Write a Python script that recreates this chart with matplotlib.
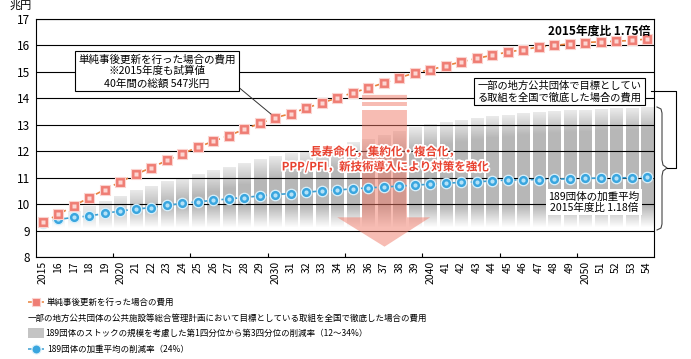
import numpy as np
import matplotlib
matplotlib.use('Agg')
import matplotlib.pyplot as plt
import matplotlib.patheffects as pe
from matplotlib.patches import Polygon, Rectangle
from matplotlib.lines import Line2D

plt.rcParams['font.family'] = ['Noto Sans CJK JP', 'DejaVu Sans']

# --- data (兆円) ---
years = list(range(2015, 2055))
year_labels = [str(y) if y in (2015, 2020, 2030, 2040, 2050) else str(y)[2:] for y in years]

simple_renewal = [9.31, 9.61, 9.94, 10.25, 10.55, 10.84, 11.13, 11.38, 11.65, 11.91,
                  12.15, 12.38, 12.59, 12.83, 13.05, 13.27, 13.42, 13.63, 13.83, 14.01,
                  14.21, 14.39, 14.58, 14.78, 14.96, 15.08, 15.23, 15.38, 15.51, 15.63,
                  15.75, 15.84, 15.94, 16.00, 16.06, 16.11, 16.14, 16.16, 16.19, 16.24]

weighted_avg = [9.30, 9.42, 9.50, 9.55, 9.65, 9.74, 9.81, 9.87, 9.95, 10.03,
                10.09, 10.14, 10.20, 10.25, 10.31, 10.36, 10.40, 10.45, 10.50, 10.53,
                10.58, 10.61, 10.65, 10.68, 10.72, 10.75, 10.79, 10.82, 10.84, 10.88,
                10.91, 10.92, 10.93, 10.95, 10.95, 10.97, 10.99, 10.99, 11.00, 11.02]

bar_years = years[1:]
bar_top = [9.50, 9.71, 9.92, 10.11, 10.30, 10.50, 10.68, 10.84, 10.97, 11.12,
           11.26, 11.40, 11.53, 11.68, 11.80, 11.90, 12.00, 12.10, 12.20, 12.32,
           12.46, 12.60, 12.75, 12.90, 13.02, 13.10, 13.18, 13.25, 13.31, 13.37,
           13.42, 13.46, 13.50, 13.53, 13.56, 13.59, 13.61, 13.63, 13.65]
bar_bottom = [9.1] * len(bar_years)

W, H = 691, 359
fig = plt.figure(figsize=(W / 100, H / 100), dpi=100)


def fx(px):
    return px / W


def fy(py):
    return 1 - py / H


ax = fig.add_axes([fx(36), fy(257), (654 - 36) / W, (257 - 19) / H])

# gradient bars (interquartile range)
for x, lo, hi in zip(bar_years, bar_bottom, bar_top):
    n = 80
    yy = np.linspace(hi, lo, n)
    fade_top = 0.3 + 0.7 * np.clip((hi - yy) / 0.8, 0, 1)
    fade_bot = np.clip((yy - lo) / 0.8, 0, 1)
    img = np.zeros((n, 1, 4))
    img[..., :3] = 0.72
    img[:, 0, 3] = fade_top * fade_bot
    ax.imshow(img, extent=(x - 0.39, x + 0.39, lo, hi), aspect='auto',
              interpolation='bilinear', origin='upper', zorder=1)

# big reduction arrow
arrow = Polygon([(2035.6, 14.13), (2038.5, 14.13), (2038.5, 9.50), (2040.0, 9.50),
                 (2037.05, 8.39), (2034.0, 9.50), (2035.6, 9.50)],
                closed=True, fc='#f07a68', ec='none', alpha=0.5, zorder=3)
ax.add_patch(arrow)
ax.add_patch(Rectangle((2035.6, 13.87), 2.9, 0.07, fc='white', ec='none', zorder=3.1))
ax.add_patch(Rectangle((2035.6, 13.56), 2.9, 0.15, fc='white', ec='none', zorder=3.1))

# series
ax.plot(years, simple_renewal, color='#e8823c', lw=1.2, ls=(0, (3.5, 2.5)),
        marker='s', ms=7, mfc='#ef7d74', mec='#fbd3cf', mew=0.8, zorder=5)
ax.plot(years, simple_renewal, ls='none', marker='s', ms=2.5, mfc='#fcd6d2', mec='none', zorder=5.1)
ax.plot(years, weighted_avg, color='#3c9fd2', lw=1.2, ls=(0, (3.5, 2.5)),
        marker='o', ms=7.5, mfc='#3aa6df', mec='#d9f0fb', mew=0.9, zorder=4)
ax.plot(years, weighted_avg, ls='none', marker='o', ms=3, mfc='#b5e2f7', mec='none', zorder=4.1)

ax.set_xlim(2014.55, 2054.45)
ax.set_ylim(8, 17)
ax.set_yticks(range(8, 18))
ax.grid(axis='y', color='black', lw=0.8)
ax.set_axisbelow(False)
ax.tick_params(axis='y', length=0, labelsize=8.5, pad=4)
ax.set_xticks(years)
ax.set_xticklabels(year_labels, rotation=90, fontsize=7.5)
ax.tick_params(axis='x', length=0, pad=3)
ax.set_xticks([y + 0.5 for y in range(2019, 2050, 5)], minor=True)
ax.tick_params(axis='x', which='minor', direction='in', length=3, width=0.8)
for s in ax.spines.values():
    s.set_linewidth(0.8)

fig.text(fx(10), fy(6), '兆円', fontsize=8, va='center', ha='left')

ax.text(2054.2, 16.55, '2015年度比 1.75倍', ha='right', va='center', fontsize=8.5,
        fontweight='bold', zorder=6)

ax.annotate('単純事後更新を行った場合の費用\n※2015年度も試算値\n40年間の総額 547兆円',
            xy=(2030, simple_renewal[15]), xytext=(2022.36, 15.03),
            ha='center', va='center', fontsize=7.6, linespacing=1.2,
            bbox=dict(boxstyle='square,pad=0.3', fc='white', ec='black', lw=0.8),
            arrowprops=dict(arrowstyle='-', color='#333333', lw=0.7, relpos=(1.0, 0.1),
                            shrinkA=0, shrinkB=4),
            zorder=6)

ax.text(2048.35, 14.26, '一部の地方公共団体で目標としてい\nる取組を全国で徹底した場合の費用',
        ha='center', va='center', fontsize=7.4, linespacing=1.15,
        bbox=dict(boxstyle='square,pad=0.3', fc='white', ec='black', lw=0.8), zorder=6)

ax.text(2050.57, 10.08, '189団体の加重平均\n2015年度比 1.18倍', ha='center', va='center',
        fontsize=7.6, linespacing=1.15,
        bbox=dict(boxstyle='square,pad=0.25', fc='white', ec='none'), zorder=6)

ax.text(2037.08, 11.69, '長寿命化，集約化・複合化，\nPPP/PFI，新技術導入により対策を強化',
        ha='center', va='center', color='#e8412f', fontsize=8.3, fontweight='bold',
        linespacing=1.2, path_effects=[pe.withStroke(linewidth=2.5, foreground='white')],
        zorder=6)

# brace and connector on the right
brace = [(657, 107), (661, 109), (662, 113), (662, 160), (663, 165), (667, 168),
         (663, 171), (662, 176), (662, 224), (661, 228), (657, 230)]
fig.add_artist(Line2D([fx(p[0]) for p in brace], [fy(p[1]) for p in brace],
                      color='#444444', lw=0.8, transform=fig.transFigure))
conn = [(667, 168), (676, 168), (676, 91), (651, 91)]
fig.add_artist(Line2D([fx(p[0]) for p in conn], [fy(p[1]) for p in conn],
                      color='black', lw=0.8, transform=fig.transFigure))

# legend (manual)
leg_fs = 6.1
fig.add_artist(Line2D([fx(28), fx(44)], [fy(302), fy(302)], color='#e8823c', lw=1.1,
                      ls=(0, (2.5, 2)), transform=fig.transFigure))
fig.add_artist(Line2D([fx(36)], [fy(302)], ls='none', marker='s', ms=6, mfc='#ef7d74',
                      mec='#fbd3cf', mew=0.8, transform=fig.transFigure))
fig.text(fx(47), fy(302), '単純事後更新を行った場合の費用', fontsize=leg_fs, va='center')
fig.text(fx(28), fy(318), '一部の地方公共団体の公共施設等総合管理計画において目標としている取組を全国で徹底した場合の費用',
         fontsize=leg_fs, va='center')
fig.add_artist(Rectangle((fx(28), fy(338)), fx(44) - fx(28), fy(328) - fy(338),
                         fc='#c4c4c4', ec='none', transform=fig.transFigure))
fig.text(fx(45), fy(333), '189団体のストックの規模を考慮した第1四分位から第3四分位の削減率（12～34%）',
         fontsize=leg_fs, va='center')
fig.add_artist(Line2D([fx(28), fx(44)], [fy(349), fy(349)], color='#3c9fd2', lw=1.1,
                      ls=(0, (2.5, 2)), transform=fig.transFigure))
fig.add_artist(Line2D([fx(36)], [fy(349)], ls='none', marker='o', ms=6.5, mfc='#3aa6df',
                      mec='#d9f0fb', mew=0.8, transform=fig.transFigure))
fig.text(fx(47), fy(349), '189団体の加重平均の削減率（24%）', fontsize=leg_fs, va='center')

fig.savefig('out.png', dpi=100)
